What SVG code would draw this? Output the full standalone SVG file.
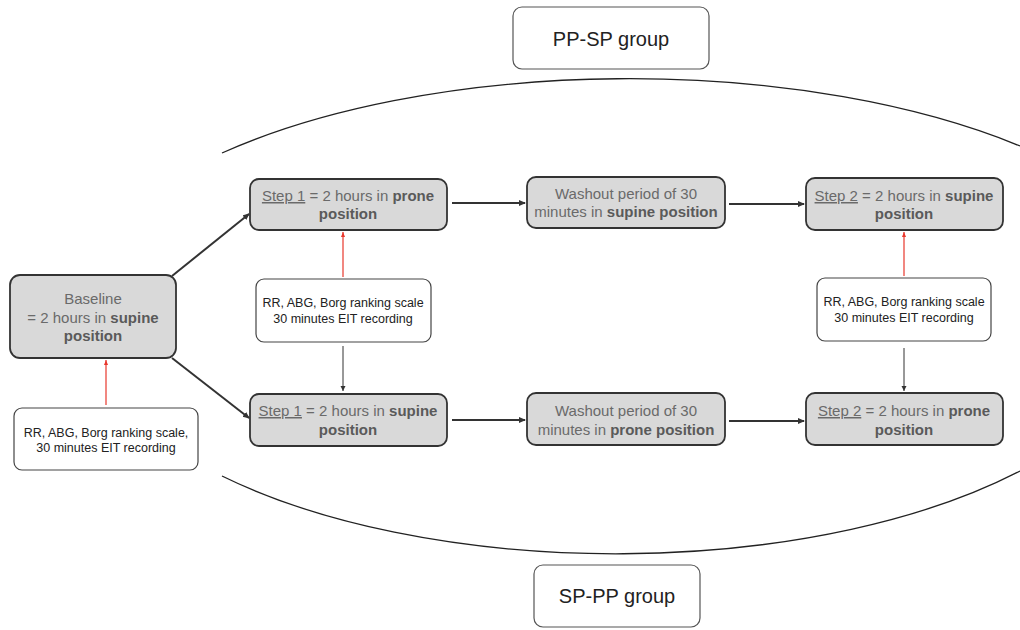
<svg xmlns="http://www.w3.org/2000/svg" width="1020" height="630" viewBox="0 0 1020 630">
<style>
.step{fill:#d9d9d9;stroke:#333;stroke-width:1.8}
.meas{fill:#fff;stroke:#444;stroke-width:1.2}
.grp{fill:#fff;stroke:#555;stroke-width:1.2}
.t{font-family:"Liberation Sans",Arial,sans-serif;font-size:15px;fill:#6a6a6a;text-anchor:middle}
.t .b{font-weight:bold;fill:#5a5a5a}
.m{font-family:"Liberation Sans",Arial,sans-serif;font-size:12.5px;fill:#222;text-anchor:middle}
.g{font-family:"Liberation Sans",Arial,sans-serif;font-size:20px;fill:#222;text-anchor:middle}
.thick{stroke:#333;stroke-width:2;fill:none;marker-end:url(#ah)}
.thin{stroke:#333;stroke-width:1;fill:none;marker-end:url(#ahs)}
.red{stroke:#e8372c;stroke-width:1.2;fill:none;marker-end:url(#ahr)}
.arc{stroke:#222;stroke-width:1.3;fill:none}
</style>
<defs>
<marker id="ah" markerWidth="8" markerHeight="8" refX="6" refY="3" orient="auto" markerUnits="userSpaceOnUse"><path d="M0,0 L7,3 L0,6 z" fill="#333"/></marker>
<marker id="ahs" markerWidth="6" markerHeight="6" refX="5" refY="2.5" orient="auto" markerUnits="userSpaceOnUse"><path d="M0,0 L5,2.5 L0,5 z" fill="#333"/></marker>
<marker id="ahr" markerWidth="6" markerHeight="6" refX="5" refY="2" orient="auto" markerUnits="userSpaceOnUse"><path d="M0,0 L5,2 L0,4 z" fill="#e8372c"/></marker>
</defs>

<g id="arcs">
<path class="arc" d="M222,153 A560,237 0 0,1 1020,146"/>
<path class="arc" d="M222,476 A532,237 0 0,0 1020,471"/>
</g>

<g id="connectors">
<line class="thick" x1="172" y1="276" x2="249" y2="214"/>
<line class="thick" x1="172" y1="358" x2="249" y2="418"/>
<line class="thick" x1="452" y1="203" x2="525" y2="203"/>
<line class="thick" x1="729" y1="204" x2="804" y2="204"/>
<line class="thick" x1="452" y1="420" x2="525" y2="420"/>
<line class="thick" x1="729" y1="421" x2="804" y2="421"/>
<line class="red" x1="106" y1="405" x2="106" y2="360"/>
<line class="red" x1="343" y1="277" x2="343" y2="232"/>
<line class="red" x1="904" y1="276" x2="904" y2="232"/>
<line class="thin" x1="343" y1="346" x2="343" y2="391"/>
<line class="thin" x1="904" y1="348" x2="904" y2="391"/>
</g>

<g id="pp-sp-group">
<rect class="grp" x="513" y="7" width="196" height="62" rx="9"/>
<text class="g" x="611" y="46">PP-SP group</text>
</g>
<g id="sp-pp-group">
<rect class="grp" x="534" y="565" width="166" height="62" rx="9"/>
<text class="g" x="617" y="603">SP-PP group</text>
</g>

<g id="baseline">
<rect class="step" x="10" y="275" width="166" height="83" rx="10"/>
<text class="t" x="93" y="304">Baseline</text>
<text class="t" x="93" y="323">= 2 hours in <tspan class="b">supine</tspan></text>
<text class="t" x="93" y="341"><tspan class="b">position</tspan></text>
</g>
<g id="baseline-measure">
<rect class="meas" x="14" y="408" width="184" height="62" rx="8"/>
<text class="m" x="106" y="437">RR, ABG, Borg ranking scale,</text>
<text class="m" x="106" y="452">30 minutes EIT recording</text>
</g>

<g id="pp-step1">
<rect class="step" x="250" y="179" width="197" height="51" rx="9"/>
<text class="t" x="348" y="201"><tspan text-decoration="underline">Step 1</tspan> = 2 hours in <tspan class="b">prone</tspan></text>
<text class="t" x="348" y="219"><tspan class="b">position</tspan></text>
</g>
<g id="measure-1">
<rect class="meas" x="256" y="279" width="175" height="63" rx="8"/>
<text class="m" x="343" y="307">RR, ABG, Borg ranking scale</text>
<text class="m" x="343" y="323">30 minutes EIT recording</text>
</g>
<g id="sp-step1">
<rect class="step" x="250" y="394" width="197" height="52" rx="9"/>
<text class="t" x="348" y="416"><tspan text-decoration="underline">Step 1</tspan> = 2 hours in <tspan class="b">supine</tspan></text>
<text class="t" x="348" y="435"><tspan class="b">position</tspan></text>
</g>

<g id="pp-washout">
<rect class="step" x="527" y="177" width="198" height="51" rx="9"/>
<text class="t" x="626" y="199">Washout period of 30</text>
<text class="t" x="626" y="217">minutes in <tspan class="b">supine position</tspan></text>
</g>
<g id="sp-washout">
<rect class="step" x="527" y="393" width="198" height="52" rx="9"/>
<text class="t" x="626" y="416">Washout period of 30</text>
<text class="t" x="626" y="435">minutes in <tspan class="b">prone position</tspan></text>
</g>

<g id="pp-step2">
<rect class="step" x="806" y="178" width="197" height="52" rx="9"/>
<text class="t" x="904" y="201"><tspan text-decoration="underline">Step 2</tspan> = 2 hours in <tspan class="b">supine</tspan></text>
<text class="t" x="904" y="219"><tspan class="b">position</tspan></text>
</g>
<g id="measure-2">
<rect class="meas" x="817" y="278" width="174" height="63" rx="8"/>
<text class="m" x="904" y="306">RR, ABG, Borg ranking scale</text>
<text class="m" x="904" y="322">30 minutes EIT recording</text>
</g>
<g id="sp-step2">
<rect class="step" x="806" y="393" width="197" height="52" rx="9"/>
<text class="t" x="904" y="416"><tspan text-decoration="underline">Step 2</tspan> = 2 hours in <tspan class="b">prone</tspan></text>
<text class="t" x="904" y="435"><tspan class="b">position</tspan></text>
</g>
</svg>
